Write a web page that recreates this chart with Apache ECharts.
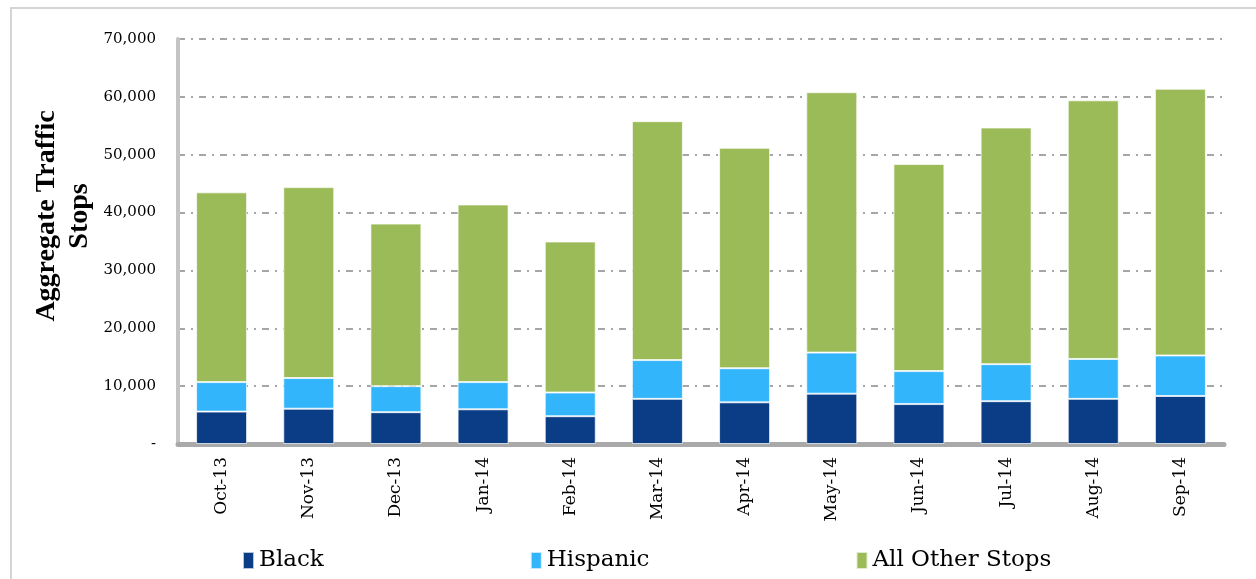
<!DOCTYPE html>
<html>
<head>
<meta charset="utf-8">
<script src="https://cdn.jsdelivr.net/npm/echarts@6/dist/echarts.min.js"></script>
<style>
  html, body { margin: 0; padding: 0; background: #fff; }
  #chart { width: 1256px; height: 579px; }
</style>
</head>
<body>
<div id="chart"></div>
<script>
// monthly aggregate traffic stops
var months = ['Oct-13','Nov-13','Dec-13','Jan-14','Feb-14','Mar-14','Apr-14','May-14','Jun-14','Jul-14','Aug-14','Sep-14'];
var black    = [5600, 6100, 5500, 6000, 4800, 7800, 7200, 8700, 6900, 7400, 7800, 8300];
var hispanic = [5100, 5300, 4500, 4700, 4100, 6700, 5900, 7100, 5700, 6400, 6900, 7000];
var other    = [32800, 33000, 28100, 30700, 26100, 41300, 38100, 45000, 35800, 40900, 44700, 46100];
var yTicks = [0, 10000, 20000, 30000, 40000, 50000, 60000, 70000];

var serif = 'DejaVu Serif';

function setChart(id){
    var myChart = echarts.init(document.getElementById(id));
    var barStyle = function(c){
        return { color: c, borderColor: 'rgba(255,255,255,0.7)', borderWidth: 1 };
    };
    var option = {
        animation: false,
        backgroundColor: '#fff',
        grid: { left: 178, right: 32, top: 39, bottom: 135 },
        legend: {
            left: 237,
            top: 544,
            icon: 'rect',
            itemWidth: 11,
            itemHeight: 17,
            itemGap: 206,
            textStyle: { fontFamily: serif, fontSize: 23, color: '#000' },
            data: ['Black', 'Hispanic', 'All Other Stops']
        },
        graphic: [
            {
                type: 'rect',
                shape: { x: 11, y: 8, width: 1300, height: 700 },
                style: { fill: 'none', stroke: '#d4d4d4', lineWidth: 2 },
                silent: true
            },
            {
                type: 'text',
                x: 63, y: 216,
                rotation: Math.PI / 2,
                style: {
                    text: 'Aggregate Traffic\nStops',
                    fontFamily: 'Liberation Serif',
                    fontWeight: 'bold',
                    fontSize: 28,
                    lineHeight: 33,
                    align: 'center',
                    verticalAlign: 'middle',
                    fill: '#000'
                }
            }
        ],
        xAxis: {
            type: 'category',
            data: months,
            axisLine: { lineStyle: { color: '#a9a9a9', width: 5 } },
            axisTick: { show: false },
            axisLabel: {
                rotate: 90,
                margin: 13,
                fontFamily: serif,
                fontSize: 17,
                color: '#000'
            }
        },
        yAxis: {
            type: 'value',
            min: yTicks[0],
            max: yTicks[yTicks.length - 1],
            interval: 10000,
            axisLine: { show: true, lineStyle: { color: '#c4c4c4', width: 4 } },
            axisTick: { show: false },
            splitLine: {
                lineStyle: { color: '#a6a6a6', width: 2, type: [7, 6, 2, 6] }
            },
            axisLabel: {
                margin: 22,
                fontFamily: serif,
                fontSize: 15,
                color: '#000',
                formatter: function(v){
                    return v === 0 ? '-' : v.toLocaleString('en-US');
                }
            }
        },
        series: [
            { name: 'Black', type: 'bar', stack: 'all', barWidth: 51, data: black, itemStyle: barStyle('#0a3d85') },
            { name: 'Hispanic', type: 'bar', stack: 'all', barWidth: 51, data: hispanic, itemStyle: barStyle('#33b5fc') },
            { name: 'All Other Stops', type: 'bar', stack: 'all', barWidth: 51, data: other, itemStyle: barStyle('#9bbb59') }
        ]
    };
    myChart.setOption(option, true);
}

setChart('chart');
</script>
</body>
</html>
